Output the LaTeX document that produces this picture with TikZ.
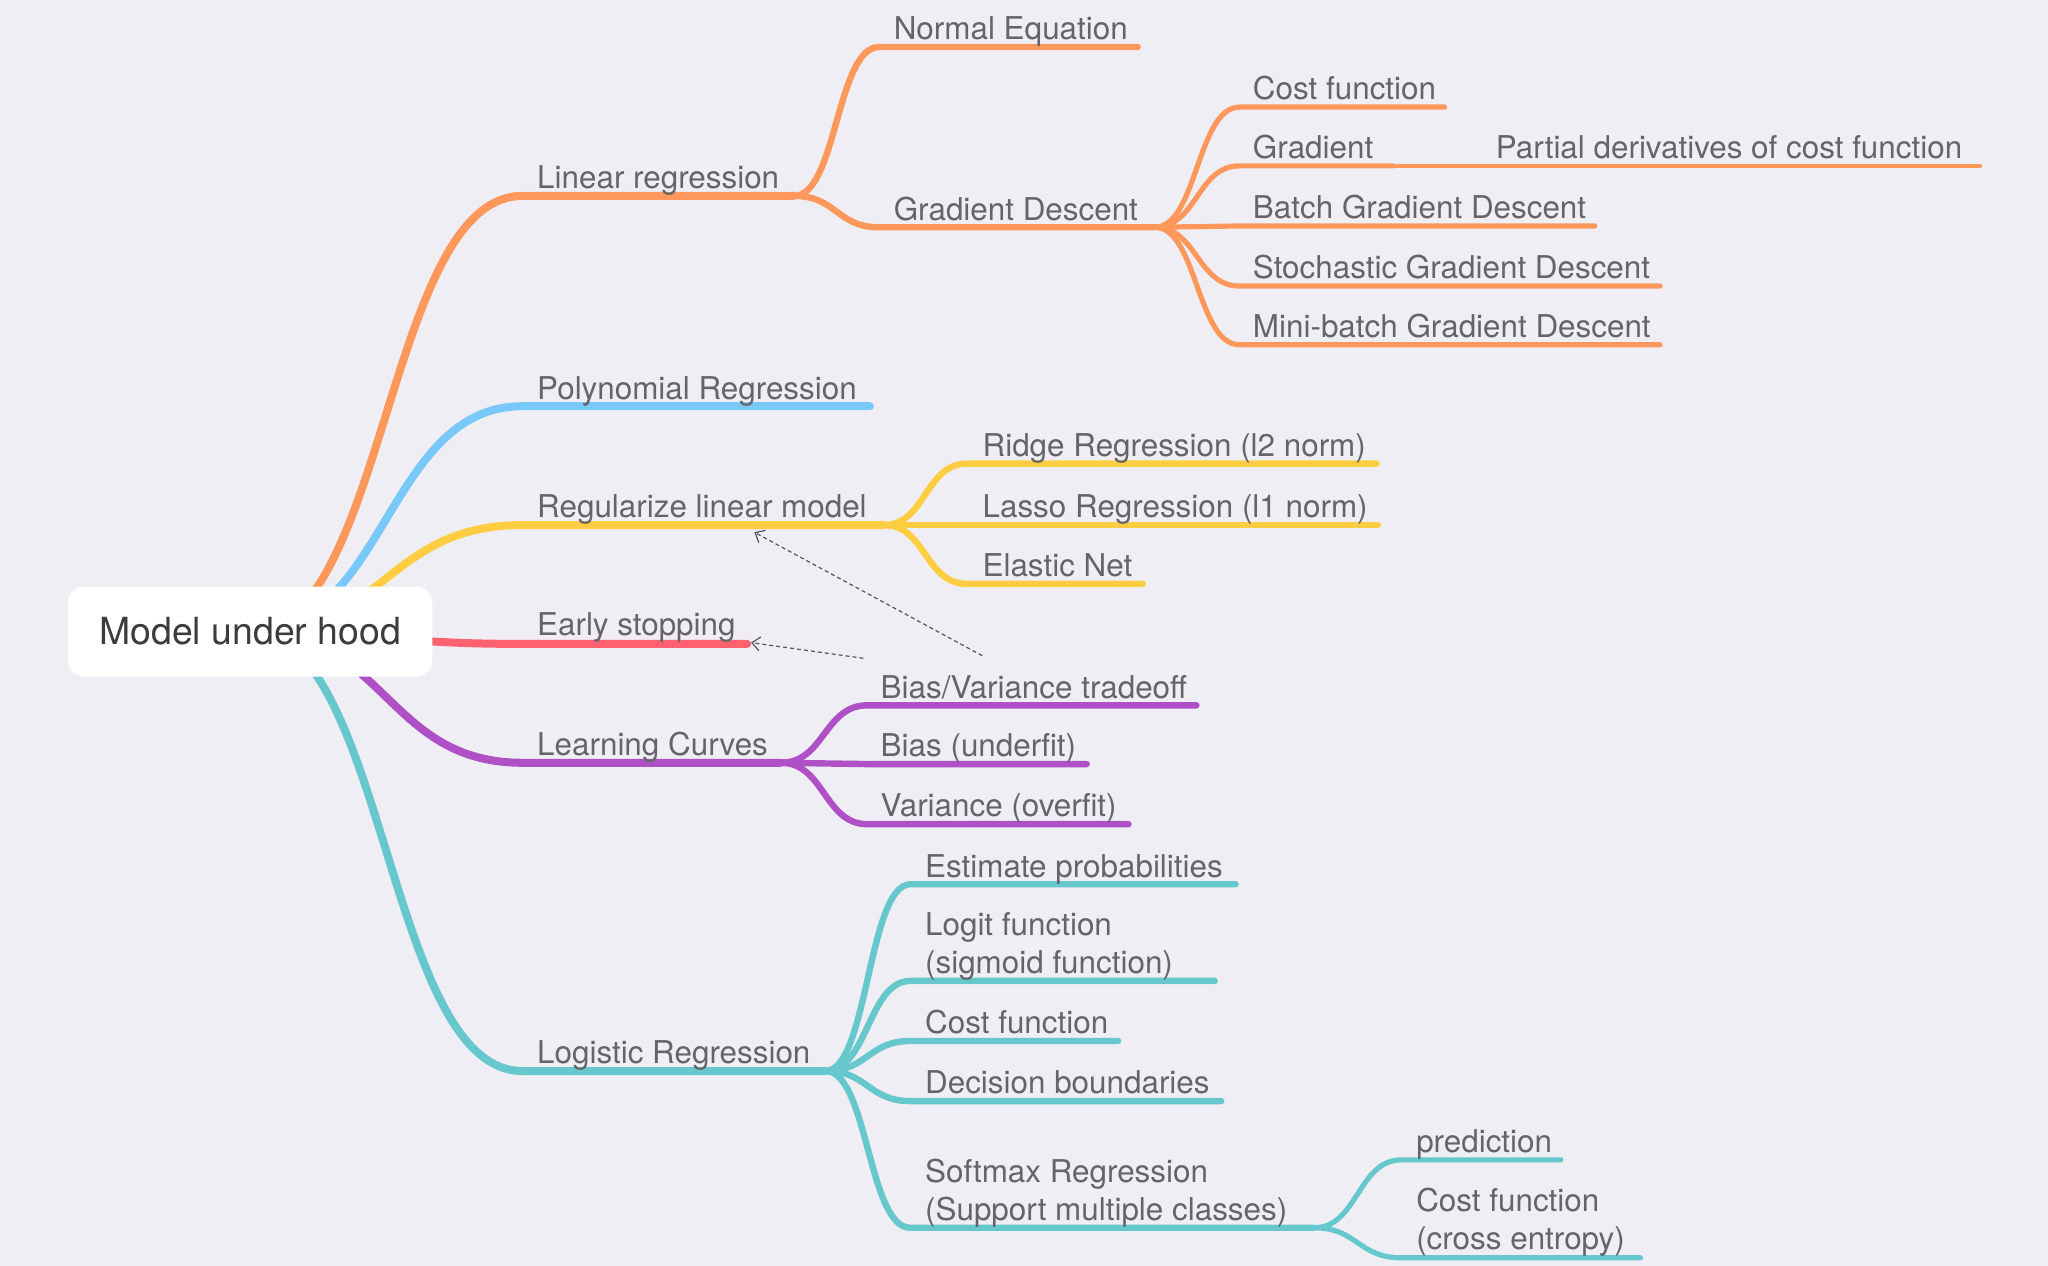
\documentclass[tikz,border=0pt]{standalone}
\usepackage{fontspec}
\setmainfont{TeX Gyre Heros}
\usetikzlibrary{calc,arrows.meta}
\definecolor{bg}{RGB}{239,238,244}
\definecolor{corange}{RGB}{255,152,90}
\definecolor{cblue}{RGB}{120,200,250}
\definecolor{cyellow}{RGB}{255,205,65}
\definecolor{cred}{RGB}{255,98,110}
\definecolor{cpurple}{RGB}{175,80,198}
\definecolor{cteal}{RGB}{102,200,204}
\definecolor{ctext}{RGB}{100,100,105}
\definecolor{croot}{RGB}{60,60,62}
\definecolor{carrow}{RGB}{85,85,90}
\newcommand\curvelink[4][]{%
  \draw[#1] let \p1=(#2), \p2=(#3) in (\p1) .. controls ({(\x1+\x2)/2},\y1) and ({(\x1+\x2)/2},\y2) .. (\p2) -- (#4);}
\newcommand\twolines[2]{\begin{tabular}[b]{@{}l@{}}#1\\#2\end{tabular}}
\begin{document}
\begin{tikzpicture}[x=0.65306pt,y=-0.65306pt,
  lvA/.style={line width=4pt,line cap=round},
  lvB/.style={line width=3.2pt,line cap=round},
  lvC/.style={line width=2.6pt,line cap=round},
  lvD/.style={line width=2pt,line cap=round},
  lbl/.style={anchor=base west,inner sep=0pt,text=ctext,font=\fontsize{15.7}{19}\selectfont},
  rootbox/.style={fill=white,rounded corners=8pt,minimum width=182.2pt,minimum height=45pt,inner sep=0pt,text=croot,font=\fontsize{18.7}{22}\selectfont},
  relarrow/.style={draw=carrow,line width=0.6pt,dash pattern=on 2pt off 1.5pt,-{Straight Barb[length=4pt,width=7pt]}}]
\fill[bg] (0,0) rectangle (1568,969);
\useasboundingbox (0,0) rectangle (1568,969);
% root centre
\coordinate (rc) at (191.5,483.5);
% level 1
\coordinate (lr) at (400,150);   \coordinate (lrE) at (608,150);
\coordinate (pr) at (400,311);   \coordinate (prE) at (666,311);
\coordinate (rl) at (400,402);   \coordinate (rlE) at (677,402);
\coordinate (es) at (400,493);   \coordinate (esE) at (572,493);
\coordinate (lc) at (400,584);   \coordinate (lcE) at (598,584);
\coordinate (lo) at (400,820);   \coordinate (loE) at (632,820);
% linear regression children
\coordinate (ne) at (673,36);    \coordinate (neE) at (871,36);
\coordinate (gd) at (673,174);   \coordinate (gdE) at (884,174);
% gradient descent children
\coordinate (cf) at (949,82);    \coordinate (cfE) at (1106,82);
\coordinate (gr) at (949,127);   \coordinate (grE) at (1067,127);
\coordinate (bg) at (949,173);   \coordinate (bgE) at (1221,173);
\coordinate (sg) at (949,219);   \coordinate (sgE) at (1271,219);
\coordinate (mb) at (949,264);   \coordinate (mbE) at (1271,264);
\coordinate (pd) at (1134,127);  \coordinate (pdE) at (1516,127);
% regularize children
\coordinate (ri) at (740,355);   \coordinate (riE) at (1054,355);
\coordinate (la) at (740,402);   \coordinate (laE) at (1055,402);
\coordinate (en) at (740,447);   \coordinate (enE) at (875,447);
% learning curves children
\coordinate (bv) at (664,540);   \coordinate (bvE) at (916,540);
\coordinate (bu) at (664,585);   \coordinate (buE) at (832,585);
\coordinate (vo) at (664,631);   \coordinate (voE) at (864,631);
% logistic children
\coordinate (ep) at (697,677);   \coordinate (epE) at (946,677);
\coordinate (lg) at (697,751);   \coordinate (lgE) at (930,751);
\coordinate (lf) at (697,797);   \coordinate (lfE) at (856,797);
\coordinate (db) at (697,843);   \coordinate (dbE) at (935,843);
\coordinate (sm) at (697,940);   \coordinate (smE) at (1006,940);
% softmax children
\coordinate (pe) at (1073,888);  \coordinate (peE) at (1195,888);
\coordinate (ce) at (1073,963);  \coordinate (ceE) at (1256,963);
% relationship arrow ends
\coordinate (a1s) at (752,502);  \coordinate (a1t) at (577.5,407.5);
\coordinate (a2s) at (661,504);  \coordinate (a2t) at (575,492);

% connectors level 1
\curvelink[lvA,corange]{rc}{lr}{lrE}
\curvelink[lvA,cblue]{rc}{pr}{prE}
\curvelink[lvA,cyellow]{rc}{rl}{rlE}
\curvelink[lvA,cred]{rc}{es}{esE}
\curvelink[lvA,cpurple]{rc}{lc}{lcE}
\curvelink[lvA,cteal]{rc}{lo}{loE}
% level 2
\curvelink[lvB,corange]{lrE}{ne}{neE}
\curvelink[lvB,corange]{lrE}{gd}{gdE}
\curvelink[lvB,cyellow]{rlE}{ri}{riE}
\curvelink[lvB,cyellow]{rlE}{la}{laE}
\curvelink[lvB,cyellow]{rlE}{en}{enE}
\curvelink[lvB,cpurple]{lcE}{bv}{bvE}
\curvelink[lvB,cpurple]{lcE}{bu}{buE}
\curvelink[lvB,cpurple]{lcE}{vo}{voE}
\curvelink[lvB,cteal]{loE}{ep}{epE}
\curvelink[lvB,cteal]{loE}{lg}{lgE}
\curvelink[lvB,cteal]{loE}{lf}{lfE}
\curvelink[lvB,cteal]{loE}{db}{dbE}
\curvelink[lvB,cteal]{loE}{sm}{smE}
% level 3
\curvelink[lvC,corange]{gdE}{cf}{cfE}
\curvelink[lvC,corange]{gdE}{gr}{grE}
\curvelink[lvC,corange]{gdE}{bg}{bgE}
\curvelink[lvC,corange]{gdE}{sg}{sgE}
\curvelink[lvC,corange]{gdE}{mb}{mbE}
\curvelink[lvC,cteal]{smE}{pe}{peE}
\curvelink[lvC,cteal]{smE}{ce}{ceE}
% level 4
\curvelink[lvD,corange]{grE}{pd}{pdE}

% root
\node[rootbox] (root) at (rc) {\raisebox{-1pt}{Model under hood}};

% labels
\node[lbl] (t-lr) at ($(lr)+(11,-5.5)$) {Linear regression};
\node[lbl] (t-pr) at ($(pr)+(11,-5.5)$) {Polynomial Regression};
\node[lbl] (t-rl) at ($(rl)+(11,-5.5)$) {Regularize linear model};
\node[lbl] (t-es) at ($(es)+(11,-6.5)$) {Early stopping};
\node[lbl] (t-lc) at ($(lc)+(11,-5.5)$) {Learning Curves};
\node[lbl] (t-lo) at ($(lo)+(11,-5.5)$) {Logistic Regression};
\node[lbl] (t-ne) at ($(ne)+(11,-5.5)$) {Normal Equation};
\node[lbl] (t-gd) at ($(gd)+(11,-5.5)$) {Gradient Descent};
\node[lbl] (t-cf) at ($(cf)+(10,-5.5)$) {Cost function};
\node[lbl] (t-gr) at ($(gr)+(10,-5.5)$) {Gradient};
\node[lbl] (t-bg) at ($(bg)+(10,-5.5)$) {Batch Gradient Descent};
\node[lbl] (t-sg) at ($(sg)+(10,-5.5)$) {Stochastic Gradient Descent};
\node[lbl] (t-mb) at ($(mb)+(10,-5.5)$) {Mini-batch Gradient Descent};
\node[lbl] (t-pd) at ($(pd)+(11,-5.5)$) {Partial derivatives of cost function};
\node[lbl] (t-ri) at ($(ri)+(12,-5.5)$) {Ridge Regression (l2 norm)};
\node[lbl] (t-la) at ($(la)+(12,-5.5)$) {Lasso Regression (l1 norm)};
\node[lbl] (t-en) at ($(en)+(12,-5.5)$) {Elastic Net};
\node[lbl] (t-bv) at ($(bv)+(10,-5.5)$) {Bias/Variance tradeoff};
\node[lbl] (t-bu) at ($(bu)+(10,-5.5)$) {Bias (underfit)};
\node[lbl] (t-vo) at ($(vo)+(10,-5.5)$) {Variance (overfit)};
\node[lbl] (t-ep) at ($(ep)+(11,-5.5)$) {Estimate probabilities};
\node[lbl] (t-lg) at ($(lg)+(11,-5.5)$) {\twolines{Logit function}{(sigmoid function)}};
\node[lbl] (t-lf) at ($(lf)+(11,-5.5)$) {Cost function};
\node[lbl] (t-db) at ($(db)+(11,-5.5)$) {Decision boundaries};
\node[lbl] (t-sm) at ($(sm)+(11,-5.5)$) {\twolines{Softmax Regression}{(Support multiple classes)}};
\node[lbl] (t-pe) at ($(pe)+(11,-5.5)$) {prediction};
\node[lbl] (t-ce) at ($(ce)+(11,-6.5)$) {\twolines{Cost function}{(cross entropy)}};

% relationships
\draw[relarrow] (a1s) -- (a1t);
\draw[relarrow] (a2s) -- (a2t);
\end{tikzpicture}
\end{document}
